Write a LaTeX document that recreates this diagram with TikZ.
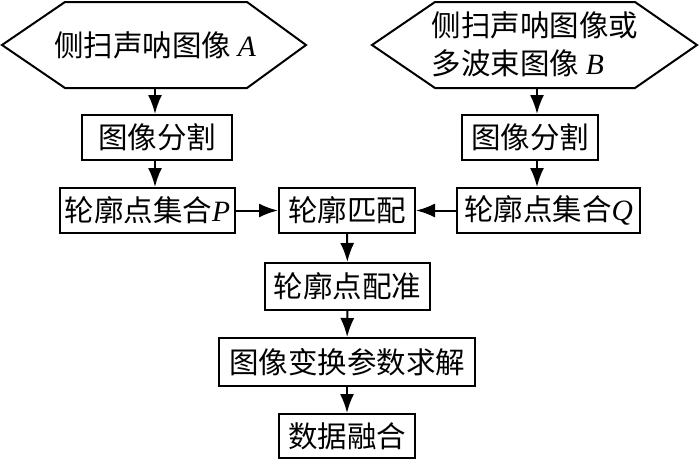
\documentclass[tikz,border=0pt]{standalone}
\usepackage{fontspec}
\setmainfont{Liberation Serif}
\newfontfamily\cjk{Noto Sans CJK SC}
\usetikzlibrary{arrows.meta}
\newcommand\itvar[1]{{\rmfamily\itshape #1}}
\tikzset{
    box/.style={draw, line width=2pt, inner sep=2pt, font=\cjk\fontsize{29.5}{36}\selectfont},
    hexa/.style={draw, line width=2pt, line join=miter},
    arr/.style={line width=2pt, -{Latex[length=19pt,width=14pt]}}
}

\begin{document}
\begin{tikzpicture}[x=1pt, y=-1pt]
\useasboundingbox (0,0) rectangle (700,461);
% Input images (hexagons)
\draw[hexa] (2,45) -- (65,2) -- (247,2) -- (306,45) -- (247,88) -- (65,88) -- cycle;
\draw[hexa] (372,45) -- (435,2) -- (635,2) -- (697,45) -- (635,88) -- (435,88) -- cycle;
\node[font=\cjk\fontsize{29.5}{36}\selectfont] (imgA) at (155,45) {侧扫声呐图像 \itvar{A}};
\node[font=\cjk\fontsize{29.5}{38}\selectfont, align=left] (imgB) at (535,44) {侧扫声呐图像或\\多波束图像 \itvar{B}};
\coordinate (hexA) at (155,88);
\coordinate (hexB) at (537,88);

% Processing steps
\node[box, minimum width=150pt, minimum height=45pt] (segA) at (157,137.5) {图像分割};
\node[box, minimum width=136pt, minimum height=45pt] (segB) at (530,137.5) {图像分割};
\node[box, minimum width=175pt, minimum height=45pt] (setP) at (147.5,210.5) {轮廓点集合\itvar{P}};
\node[box, minimum width=136pt, minimum height=45pt] (match) at (347,210.5) {轮廓匹配};
\node[box, minimum width=183pt, minimum height=45pt] (setQ) at (548.5,210.5) {轮廓点集合\itvar{Q}};
\node[box, minimum width=165pt, minimum height=47pt] (reg) at (347.5,286.5) {轮廓点配准};
\node[box, minimum width=256pt, minimum height=48pt] (solve) at (347,362) {图像变换参数求解};
\node[box, minimum width=136pt, minimum height=44pt] (fuse) at (347,436) {数据融合};

% Connectors
\draw[arr] (hexA) -- (hexA |- segA.north);
\draw[arr] (hexA |- segA.south) -- (hexA |- setP.north);
\draw[arr] (hexB) -- (hexB |- segB.north);
\draw[arr] (hexB |- segB.south) -- (hexB |- setQ.north);
\draw[arr] (setP.east) -- (match.west);
\draw[arr] (setQ.west) -- (match.east);
\draw[arr] (match) -- (reg);
\draw[arr] (reg) -- (solve);
\draw[arr] (solve) -- (fuse);
\end{tikzpicture}
\end{document}
